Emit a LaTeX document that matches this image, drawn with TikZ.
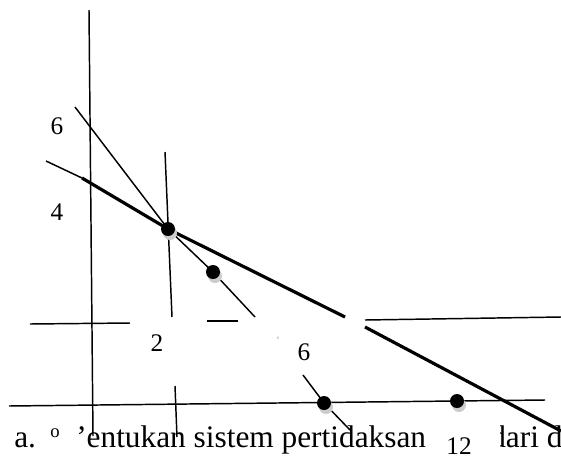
\documentclass[tikz,border=0pt]{standalone}
\usepackage{fontspec}
\setmainfont{Liberation Serif}
\begin{document}
\begin{tikzpicture}[x=0.75pt,y=-0.75pt,
  garis/.style={line width=1.1pt},
  tebal/.style={line width=2.4pt},
  titik/.style={circle,fill=black,inner sep=0pt,minimum size=10.5pt},
  bayang/.style={circle,fill=gray!40,inner sep=0pt,minimum size=10.5pt},
  angka/.style={font=\fontsize{19}{21}\selectfont,inner sep=0pt},
  teks/.style={font=\fontsize{23.5}{26}\selectfont,inner sep=0pt,anchor=base west}]
  \useasboundingbox (0,0) rectangle (561,458);
  \clip (0,0) rectangle (561,458);

  % sumbu
  \draw[garis] (89,10) -- (93,436);
  \draw[garis] (9,406) -- (545,400);

  % titik potong
  \coordinate (A) at (168,229);
  \coordinate (B) at (213,272);
  \coordinate (C) at (324,403);
  \coordinate (D) at (457,401);

  % garis-garis
  \draw[garis] (75,107) -- (A) -- (B) -- (255,317);
  \draw[garis] (303,375) -- (C) -- (350,430);
  \draw[garis] (46,161) -- (82,178);
  \draw[tebal] (82,178) -- (A) -- (345,317);
  \draw[tebal] (365,327) -- (561,431);
  \draw[garis] (165,152) -- (172,317);
  \draw[garis] (175,386) -- (177,437);
  \draw[garis] (30,324) -- (130,323);
  \draw[garis] (207,321) -- (238,321);
  \draw[garis] (365,320) -- (561,317);

  % titik
  \foreach \t in {A,B,C,D} {
    \node[bayang] at ([shift={(2,4)}]\t) {};
    \node[titik] (\t t) at (\t) {};
  }

  % label
  \node[angka] (l6) at (57,126) {6};
  \node[angka] (l4) at (57,212) {4};
  \node[angka] (l2) at (157,343) {2};
  \node[font=\fontsize{3}{3}\selectfont,inner sep=0pt,text=gray] (k6) at (278,338) {6};
  \node[angka] (m6) at (304,352) {6};
  \node[angka,anchor=base] (l12) at (459,454) {12};

  % teks soal
  \node[teks] (ta) at (14,447) {a.};
  \node[font=\fontsize{14}{16}\selectfont,inner sep=0pt,anchor=base west] (to) at (50,437) {o};
  \node[teks] (tb) at (76,447) {'entukan sistem pertidaksan};
  \node[teks] (tc) at (490,447) {dari d};
  \fill[white] (485,420) rectangle (500,452);
\end{tikzpicture}
\end{document}
